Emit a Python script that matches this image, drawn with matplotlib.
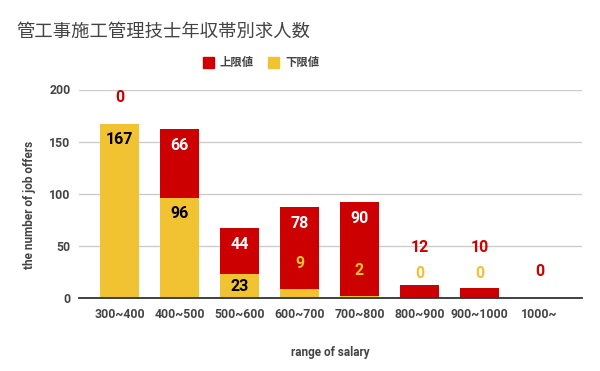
import matplotlib
matplotlib.use("Agg")
import matplotlib.pyplot as plt
from matplotlib.patches import Rectangle
import numpy as np

plt.rcParams['font.family'] = ['Roboto', 'Noto Sans CJK JP', 'DejaVu Sans']

title = "管工事施工管理技士年収帯別求人数"
categories = ["300~400", "400~500", "500~600", "600~700", "700~800", "800~900", "900~1000", "1000~"]
series_names = ["上限値", "下限値"]
upper = [0, 66, 44, 78, 90, 12, 10, 0]          # 上限値 (red)
lower = [167, 96, 23, 9, 2, 0, 0, np.nan]       # 下限値 (yellow)
y_ticks = [0, 50, 100, 150, 200]
x_label = "range of salary"
y_label = "the number of job offers"

RED = "#cc0000"
YEL = "#f1c232"
TXT = "#444444"

W, H, DPI = 6.0, 3.71, 100
fig = plt.figure(figsize=(W, H), dpi=DPI)
left, right = 79 / 600, 582 / 600
bottom, top = (371 - 298) / 371, (371 - 89.5) / 371
ax = fig.add_axes([left, bottom, right - left, top - bottom])

x = np.arange(len(categories))
low = np.nan_to_num(np.array(lower, dtype=float))
up = np.array(upper, dtype=float)
bw = 0.65
ax.bar(x, low, width=bw, color=YEL, zorder=3)
ax.bar(x, up, width=bw, bottom=low, color=RED, zorder=3)

ax.set_xlim(-0.675, len(categories) - 1 + 0.71)
ax.set_ylim(0, 200)
ax.set_yticks(y_ticks)
ax.set_xticks(x)
ax.set_xticklabels(categories)
ax.tick_params(axis='both', length=0, labelsize=8.8, labelcolor=TXT)
ax.tick_params(axis='y', pad=6)
ax.tick_params(axis='x', pad=7)
for lab in ax.get_xticklabels() + ax.get_yticklabels():
    lab.set_fontweight('bold')
ax.grid(axis='y', color='#cccccc', lw=1, zorder=0)
for s in ['top', 'right', 'left']:
    ax.spines[s].set_visible(False)
ax.spines['bottom'].set_color('#333333')
ax.spines['bottom'].set_linewidth(1.3)
ax.spines['bottom'].set_zorder(4)

ax.set_xlabel(x_label, fontsize=8.5, color=TXT, fontweight='bold', labelpad=18)
ax.set_ylabel(y_label, fontsize=8.5, color=TXT, fontweight='bold')
ax.yaxis.set_label_coords(-0.085, 0.446)

# pixel -> data units
px = 200 / (H * DPI * (top - bottom))
fs = 11.5
for i in range(len(categories)):
    l = lower[i]
    u = upper[i]
    ytxt_low = None
    if not np.isnan(l):
        if l >= 20:
            y = max(l - 16 * px, l / 2)
            ax.text(x[i], y, f"{int(l)}", ha='center', va='center', fontsize=fs,
                    fontweight='bold', color='black', zorder=5)
        else:
            ytxt_low = l + 25 * px
            ax.text(x[i], ytxt_low, f"{int(l)}", ha='center', va='center', fontsize=fs,
                    fontweight='bold', color=YEL, zorder=5)
    base = 0 if np.isnan(l) else l
    tot = base + u
    if u >= 20:
        y = max(tot - 16 * px, base + u / 2)
        ax.text(x[i], y, f"{int(u)}", ha='center', va='center', fontsize=fs,
                fontweight='bold', color='white', zorder=5)
    else:
        y = tot + 26 * px
        if ytxt_low is not None and y < ytxt_low + 25 * px:
            y = ytxt_low + 25 * px
        ax.text(x[i], y, f"{int(u)}", ha='center', va='center', fontsize=fs,
                fontweight='bold', color=RED, zorder=5)

# title
fig.text(16 / 600, 1 - 32 / 371, title, fontsize=13.2, color=TXT, va='center',
         ha='left', family=['Noto Sans CJK JP', 'DejaVu Sans'])

# legend (manual)
leg_y = 62.5
items = [(series_names[0], RED, 203, 220), (series_names[1], YEL, 268, 285)]
for name, col, sx, tx in items:
    fig.patches.append(Rectangle((sx / 600, 1 - (leg_y + 5.5) / 371), 10.5 / 600, 11 / 371,
                                 transform=fig.transFigure, color=col, figure=fig))
    fig.text(tx / 600, 1 - leg_y / 371, name, fontsize=8.2, color=TXT, va='center', ha='left',
             fontweight='bold', family=['Noto Sans CJK JP', 'DejaVu Sans'])

fig.savefig("out.png", dpi=DPI)
